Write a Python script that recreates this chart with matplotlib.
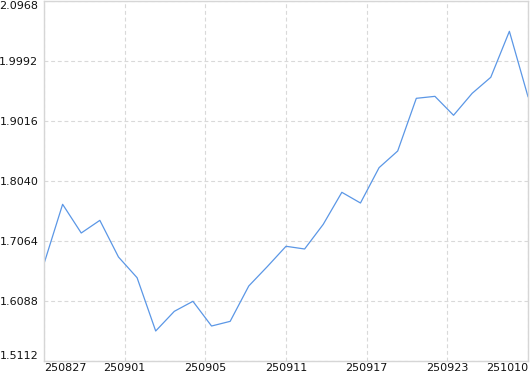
import numpy as np
import matplotlib.pyplot as plt

# daily values
values = [1.6695, 1.7661, 1.7194, 1.7400, 1.6804, 1.6467, 1.5600, 1.5920, 1.6083,
          1.5681, 1.5757, 1.6332, 1.6649, 1.6978, 1.6934, 1.7335, 1.7856, 1.7682,
          1.8257, 1.8528, 1.9385, 1.9417, 1.9109, 1.9466, 1.9727, 2.0475, 1.9412]
x_labels = ["250827", "250901", "250905", "250911", "250917", "250923", "251010"]
y_ticks = [1.5112, 1.6088, 1.7064, 1.8040, 1.9016, 1.9992, 2.0968]

fig = plt.figure(figsize=(5.3, 3.74), dpi=100)
ax = fig.add_axes([44 / 530, 1 - 361 / 374, 484 / 530, 360 / 374])

x = np.arange(len(values))
ax.plot(x, values, color="#5b97e6", linewidth=0.9)

ax.set_xlim(0, len(values) - 1)
ax.set_ylim(y_ticks[0], y_ticks[-1])

xt = np.linspace(0, len(values) - 1, len(x_labels))
ax.set_xticks(xt)
ax.set_xticklabels(x_labels)
ax.set_yticks(y_ticks)
ax.set_yticklabels([f"{v:.4f}" for v in y_ticks])

ax.tick_params(axis="both", length=0, labelsize=8, colors="#111111")
ax.tick_params(axis="x", pad=1.5)
ax.tick_params(axis="y", pad=4)

xl = ax.get_xticklabels()
xl[0].set_horizontalalignment("left")
xl[-1].set_horizontalalignment("right")
yl = ax.get_yticklabels()
yl[0].set_verticalalignment("bottom")
yl[-1].set_verticalalignment("top")

ax.grid(True, color="#d9d9d9", linestyle=(0, (3.5, 2.5)), linewidth=0.8)
ax.set_axisbelow(True)
for s in ax.spines.values():
    s.set_color("#d6d6d6")
    s.set_linewidth(1.0)

plt.savefig("out.png", dpi=100)
